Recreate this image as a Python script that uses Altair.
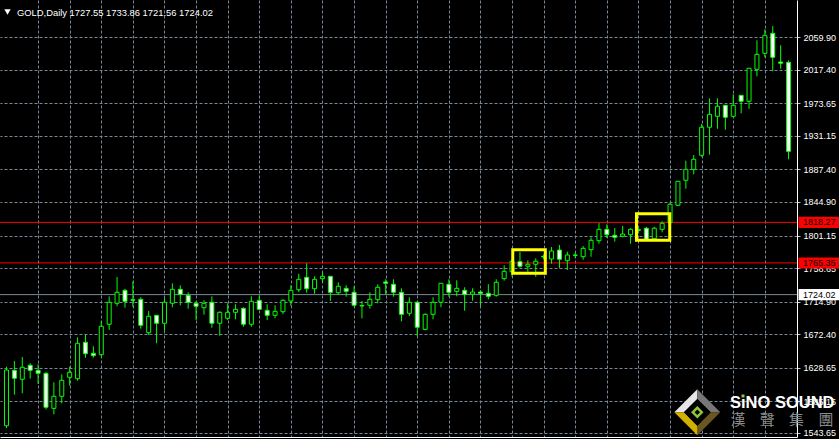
import altair as alt
import pandas as pd

# Daily GOLD candles (oldest first)
opens = [1552.9, 1625.2, 1613.5, 1631.8, 1625.2, 1621.3, 1575.6, 1591.3, 1616.1, 1614.3,
         1661.8, 1647.4, 1645.6, 1685.3, 1712.7, 1729.6, 1717.4, 1717.9, 1674.3, 1697.0,
         1686.6, 1712.7, 1730.9, 1723.1, 1712.7, 1706.9, 1714.0, 1686.6, 1693.1, 1700.9,
         1706.1, 1685.3, 1716.6, 1703.5, 1697.0, 1701.7, 1715.7, 1730.4, 1746.6, 1731.7,
         1744.8, 1747.9, 1726.5, 1732.2, 1727.0, 1709.8, 1710.1, 1717.4, 1740.5, 1737.5,
         1727.0, 1699.6, 1714.0, 1678.7, 1698.3, 1714.0, 1737.5, 1728.3, 1729.6, 1724.4,
         1727.4, 1725.7, 1723.1, 1744.8, 1753.9, 1767.0, 1761.0, 1763.6, 1774.0, 1770.5,
         1782.2, 1768.3, 1775.7, 1773.5, 1782.6, 1794.4, 1809.2, 1801.4, 1800.1, 1802.2,
         1808.7, 1810.6, 1797.0, 1809.2, 1817.9, 1840.6, 1873.2, 1887.5, 1905.8, 1942.4,
         1956.7, 1971.1, 1956.7, 1984.1, 1976.3, 2018.0, 2038.9, 2065.0, 2027.6, 2027.2]
highs = [1629.9, 1637.4, 1642.6, 1634.4, 1633.1, 1622.6, 1609.6, 1620.0, 1629.9, 1668.3,
         1672.2, 1656.6, 1689.6, 1721.8, 1747.0, 1731.7, 1741.4, 1720.5, 1702.6, 1697.4,
         1719.2, 1738.8, 1736.2, 1727.0, 1715.3, 1716.6, 1721.8, 1702.2, 1712.7, 1711.4,
         1707.5, 1721.8, 1723.1, 1711.4, 1710.1, 1717.9, 1736.2, 1751.3, 1764.9, 1747.9,
         1753.1, 1748.3, 1740.1, 1736.2, 1734.9, 1715.7, 1727.0, 1737.5, 1744.0, 1744.0,
         1732.2, 1720.5, 1715.3, 1699.6, 1720.5, 1739.2, 1744.0, 1742.7, 1733.6, 1732.2,
         1729.6, 1737.5, 1744.0, 1762.3, 1770.1, 1779.6, 1768.8, 1771.4, 1776.4, 1786.1,
         1788.8, 1780.0, 1779.0, 1787.5, 1798.8, 1817.5, 1815.8, 1810.9, 1813.6, 1810.6,
         1810.6, 1812.6, 1812.6, 1819.7, 1843.6, 1872.3, 1898.8, 1906.2, 1946.7, 1980.2,
         1980.2, 1971.5, 1985.4, 1984.5, 2019.7, 2055.9, 2070.2, 2074.6, 2049.4, 2029.8]
lows = [1549.9, 1593.4, 1595.2, 1614.3, 1607.4, 1574.3, 1567.8, 1582.2, 1605.1, 1611.7,
        1641.7, 1641.7, 1643.0, 1677.8, 1708.8, 1706.9, 1708.2, 1679.5, 1671.3, 1660.5,
        1676.9, 1707.5, 1710.1, 1705.6, 1690.9, 1697.8, 1680.8, 1670.4, 1690.9, 1691.8,
        1682.1, 1682.1, 1703.9, 1690.9, 1693.1, 1698.7, 1709.2, 1727.4, 1726.5, 1725.2,
        1739.6, 1715.7, 1723.9, 1721.3, 1708.2, 1693.1, 1705.6, 1712.7, 1724.4, 1721.3,
        1689.2, 1696.1, 1670.0, 1677.4, 1691.8, 1707.5, 1721.3, 1721.8, 1703.0, 1716.1,
        1709.2, 1717.9, 1721.3, 1742.2, 1747.4, 1759.1, 1753.9, 1747.4, 1770.1, 1764.4,
        1758.7, 1756.1, 1771.8, 1769.6, 1773.5, 1790.5, 1797.9, 1793.1, 1798.8, 1790.5,
        1806.1, 1794.9, 1796.2, 1805.3, 1816.8, 1839.7, 1862.2, 1881.0, 1904.0, 1906.6,
        1940.5, 1939.2, 1955.4, 1960.6, 1966.6, 2008.9, 2033.7, 2015.4, 2018.8, 1900.6]
closes = [1625.6, 1614.8, 1629.2, 1625.2, 1621.3, 1577.0, 1591.3, 1612.2, 1622.6, 1660.5,
          1646.9, 1644.3, 1682.7, 1714.0, 1727.0, 1715.3, 1716.6, 1684.0, 1695.7, 1686.6,
          1714.0, 1730.9, 1724.4, 1714.0, 1708.8, 1712.7, 1686.6, 1700.9, 1700.9, 1704.8,
          1685.3, 1715.3, 1704.8, 1697.0, 1702.2, 1716.6, 1729.6, 1744.0, 1731.7, 1744.0,
          1747.9, 1727.0, 1734.9, 1728.3, 1710.1, 1709.2, 1717.9, 1733.6, 1738.8, 1727.0,
          1698.3, 1714.0, 1681.4, 1698.3, 1714.0, 1738.8, 1727.0, 1732.2, 1724.4, 1727.4,
          1725.7, 1721.8, 1740.1, 1754.4, 1767.5, 1761.0, 1763.6, 1767.5, 1773.1, 1780.9,
          1770.1, 1775.7, 1775.3, 1784.4, 1794.9, 1809.2, 1802.2, 1798.8, 1803.1, 1809.2,
          1807.9, 1796.2, 1810.6, 1817.1, 1841.9, 1871.9, 1887.5, 1900.6, 1942.4, 1959.3,
          1969.8, 1955.4, 1971.1, 1976.3, 2019.4, 2037.6, 2062.4, 2033.7, 2025.9, 1911.0]

# Price scale labels and vertical grid (every 4th bar)
price_ticks = [2059.90, 2017.40, 1973.65, 1931.15, 1887.40, 1844.90, 1801.15,
               1758.65, 1714.90, 1672.40, 1628.65, 1585.15, 1543.65]
bar_grid = list(range(4, 100, 4))

# Horizontal lines with their price tags
level_prices = [1818.27, 1765.35]
bid_price = 1724.02

# Highlight boxes (bar index range, price range)
box_from = [64.09, 79.75]
box_to = [68.21, 83.96]
box_high = [1782.5, 1829.5]
box_low = [1751.9, 1795.0]

header_text = "GOLD,Daily  1727.55 1733.86 1721.56 1724.02"
brand = "SıNO SOUND"
brand_cn = ["漢", "聲", "集", "團"]

GREEN = "#00ff00"
GRID = "#778899"
FONT = "Liberation Sans"

candles = pd.DataFrame({
    "idx": list(range(len(opens))),
    "open": opens, "high": highs, "low": lows, "close": closes,
})
candles["body"] = ["black" if c >= o else "white" for o, c in zip(opens, closes)]

levels = pd.DataFrame({"price": level_prices})
tags = pd.DataFrame({
    "price": level_prices + [bid_price],
    "bg": ["#ff0000", "#ff0000", "#ffffff"],
})
boxes = pd.DataFrame({"x0": box_from, "x1": box_to, "top": box_high, "bot": box_low})

xs = alt.Scale(domain=[-0.1875, 99.4375], nice=False, zero=False)
ys = alt.Scale(domain=[1538.2, 2108.48], nice=False, zero=False)

x_axis = alt.Axis(values=bar_grid, labels=False, ticks=False, title=None,
                  domainColor="white", grid=True, gridColor=GRID, gridDash=[3, 2],
                  zindex=0)
y_axis = alt.Axis(orient="right", values=price_ticks, format=".2f", title=None,
                  labelColor="white", labelFont=FONT, labelFontSize=9, labelPadding=3,
                  labelOverlap=False, labelBound=False, tickColor="#c8c8c8", tickSize=3,
                  domainColor="white", grid=True, gridColor=GRID, gridDash=[3, 2],
                  zindex=0)

X = lambda f: alt.X(f, scale=xs, axis=x_axis)
Y = lambda f: alt.Y(f, scale=ys, axis=y_axis)

level_lines = alt.Chart(levels).mark_rule(color="#ff0000", strokeWidth=1).encode(
    y=Y("price:Q"), x=alt.value(0), x2=alt.value(797))
bid_line = alt.Chart(pd.DataFrame({"price": [bid_price]})).mark_rule(
    color=GRID, strokeWidth=1).encode(y=Y("price:Q"), x=alt.value(0), x2=alt.value(797))

wicks = alt.Chart(candles).mark_rule(color=GREEN, strokeWidth=1).encode(
    x=X("idx:Q"), y=Y("low:Q"), y2="high:Q")
bodies = alt.Chart(candles).mark_bar(size=4, stroke=GREEN, strokeWidth=1).encode(
    x=X("idx:Q"), y=Y("open:Q"), y2="close:Q",
    fill=alt.Fill("body:N", scale=None))

highlight = alt.Chart(boxes).mark_rect(fillOpacity=0, stroke="#ffff00", strokeWidth=3).encode(
    x=X("x0:Q"), x2="x1:Q", y=Y("top:Q"), y2="bot:Q")

tag_boxes = alt.Chart(tags).mark_point(
    shape="M-1,-0.27L1,-0.27L1,0.27L-1,0.27Z", filled=True, size=1681, opacity=1,
    strokeWidth=0).encode(
    x=alt.value(819), y=Y("price:Q"), color=alt.Color("bg:N", scale=None))
tag_text = alt.Chart(tags).mark_text(
    align="left", baseline="middle", font=FONT, fontSize=9, color="black").encode(
    x=alt.value(803), y=Y("price:Q"), text=alt.Text("price:Q", format=".2f"))

bottom_edge = alt.Chart(pd.DataFrame({"v": [0]})).mark_rule(color="white").encode(
    x=alt.value(0), x2=alt.value(839), y=alt.value(439.5))

marker = alt.Chart(pd.DataFrame({"v": [0]})).mark_point(
    shape="triangle-down", filled=True, color="white", size=40, opacity=1).encode(
    x=alt.value(7.5), y=alt.value(12))
header = alt.Chart(pd.DataFrame({"v": [0]})).mark_text(
    text=header_text, align="left", baseline="alphabetic", font=FONT, fontSize=9.4,
    color="white").encode(x=alt.value(17), y=alt.value(16))

# Brand emblem: four bevelled facets around a dark core with a green ring
facets = [
    ("M-1,0L0,-1L0,-0.58L-0.58,0Z", "#e6e6e6"),
    ("M0,-1L1,0L0.58,0L0,-0.58Z", "#777777"),
    ("M1,0L0,1L0,0.58L0.58,0Z", "#6b5522"),
    ("M0,1L-1,0L-0.58,0L0,0.58Z", "#d2b000"),
    ("M-0.58,0L0,-0.58L0.58,0L0,0.58Z", "#000000"),
    ("M-0.27,0L0,-0.27L0.27,0L0,0.27Z", "#8dc63f"),
    ("M-0.12,0L0,-0.12L0.12,0L0,0.12Z", "#000000"),
]
emblem = [
    alt.Chart(pd.DataFrame({"v": [0]})).mark_point(
        shape=path, filled=True, color=col, size=2116, opacity=1, strokeWidth=0).encode(
        x=alt.value(697.3), y=alt.value(412.3))
    for path, col in facets
]
brand_text = alt.Chart(pd.DataFrame({"v": [0]})).mark_text(
    text=brand, align="left", baseline="alphabetic", font=FONT, fontWeight="bold",
    fontSize=16.5, color="white").encode(x=alt.value(730), y=alt.value(408))
brand_dot = alt.Chart(pd.DataFrame({"v": [0]})).mark_square(
    size=9, color="#8dc63f", opacity=1).encode(x=alt.value(743), y=alt.value(396))
brand_cn_layers = [
    alt.Chart(pd.DataFrame({"v": [0]})).mark_text(
        text=ch, align="center", baseline="middle", font="Noto Sans CJK TC",
        fontSize=15, color="#8a8a8a").encode(
        x=alt.value(738 + 29.3 * i), y=alt.value(420))
    for i, ch in enumerate(brand_cn)
]

chart = alt.layer(
    level_lines, bid_line, wicks, bodies, highlight, tag_boxes, tag_text,
    bottom_edge, marker, header, *emblem, brand_text, brand_dot, *brand_cn_layers,
).properties(
    width=797, height=437, autosize="none",
    padding={"left": 0, "top": 0, "right": 42, "bottom": 3},
    background="black",
).configure_view(stroke=None)

chart.save("out.html", embed_options={"renderer": "svg", "actions": False})
